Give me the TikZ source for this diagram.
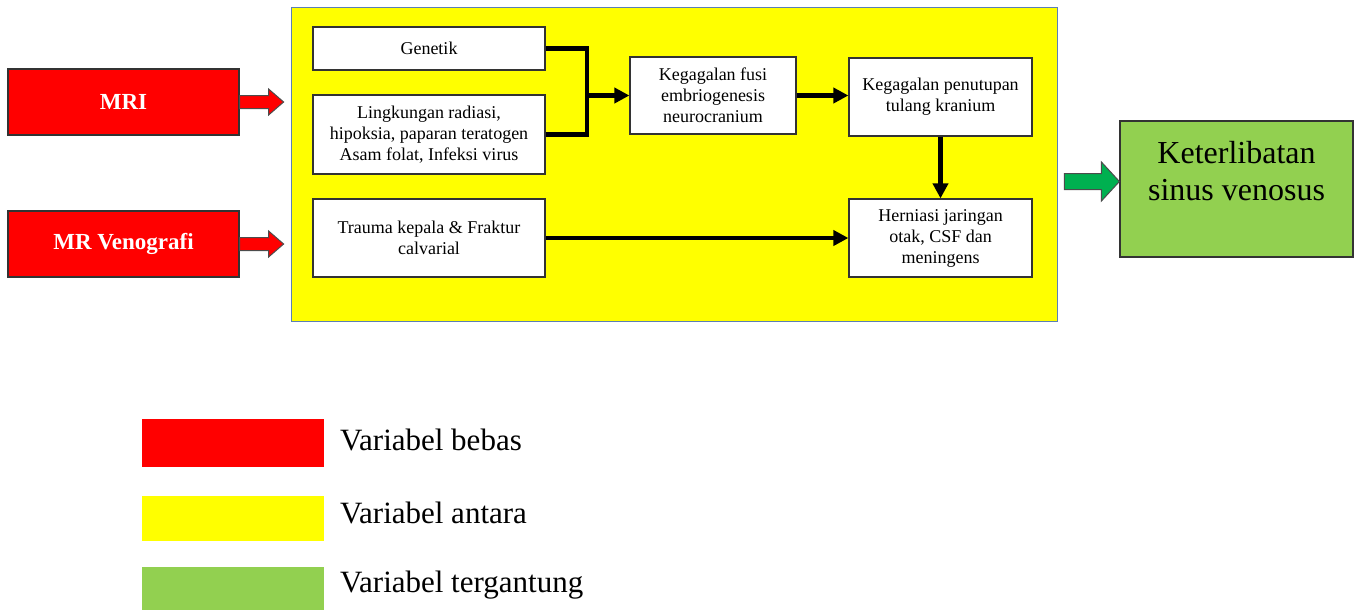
\documentclass[tikz,border=0pt]{standalone}
\usepackage{fontspec}
\setmainfont{Liberation Serif}
\usetikzlibrary{arrows.meta,positioning}
\definecolor{bebas}{HTML}{FF0000}
\definecolor{antara}{HTML}{FFFF00}
\definecolor{tergantung}{HTML}{92D050}
\definecolor{panahhijau}{HTML}{00B050}
\definecolor{garisbiru}{HTML}{5B7FB5}
\begin{document}
\begin{tikzpicture}
  [x=1pt,y=-1pt,
   every node/.style={rectangle,inner sep=2pt},
   varbox/.style={draw=black!80,line width=1.2pt,fill=white,align=center,
     font=\fontsize{18}{21}\selectfont},
   indep/.style={draw=black!80,line width=1.2pt,fill=bebas,text=white,
     minimum width=231,minimum height=66,font=\bfseries\fontsize{23}{27}\selectfont},
   flow/.style={line width=4.5pt,-{Triangle[length=15pt,width=15pt]}},
   link/.style={line width=4.5pt},
   blokpanah/.style={draw=black!70,line width=1pt},
   legbox/.style={minimum width=182,inner sep=0pt},
   legtext/.style={anchor=west,font=\fontsize{31}{36}\selectfont}]
\useasboundingbox (0,0) rectangle (1363,611);
% variabel antara
\node (antara)[draw=garisbiru,line width=1pt,fill=antara,minimum width=766,minimum height=314] at (674,164) {};
% variabel bebas
\node (mri)[indep] at (123.5,102) {MRI};
\node (mrv)[indep] at (123.5,244) {MR Venografi};
\foreach \src in {mri,mrv}
  \draw[blokpanah,fill=bebas] (\src.east) ++(0,-6.5) -- ++(29,0) -- ++(0,-6.5)
    -- ++(15,13) -- ++(-15,13) -- ++(0,-6.5) -- ++(-29,0) -- cycle;
% kotak di dalam
\node (gen)[varbox,minimum width=232,minimum height=43] at (429,48.5) {Genetik};
\node (ling)[varbox,minimum width=232,minimum height=79] at (429,134.5)
  {Lingkungan radiasi,\\hipoksia, paparan teratogen\\Asam folat, Infeksi virus};
\node (trauma)[varbox,minimum width=232,minimum height=78] at (429,238)
  {Trauma kepala \& Fraktur\\calvarial};
\node (fusi)[varbox,minimum width=166,minimum height=77] at (713,95.5)
  {Kegagalan fusi\\embriogenesis\\neurocranium};
\node (pen)[varbox,minimum width=183,minimum height=78] at (940.5,97)
  {Kegagalan penutupan\\tulang kranium};
\node (hern)[varbox,minimum width=183,minimum height=78] at (940.5,238)
  {Herniasi jaringan\\otak, CSF dan\\meningens};
\coordinate (junc) at (587,95.5);
\draw[link] (gen.east) -| (junc);
\draw[link] (ling.east) -| (junc);
\draw[flow] (junc) -- (fusi.west);
\draw[flow] (fusi.east) -- (fusi.east -| pen.west);
\draw[flow] (pen.south) -- (hern.north);
\draw[flow] (trauma.east) -- (hern.west);
% variabel tergantung
\node (dv)[draw=black!80,line width=1.2pt,fill=tergantung,minimum width=233,minimum height=136,
  align=center,font=\fontsize{32}{37}\selectfont] at (1236.5,189) {Keterlibatan\\sinus venosus\\\mbox{}};
\draw[blokpanah,fill=panahhijau] (dv.west) ++(0,-7.5) -- ++(-18,-19.5) -- ++(0,11.5)
  -- ++(-37,0) -- ++(0,16) -- ++(37,0) -- ++(0,11.5) -- cycle;
% keterangan
\node (leg1)[legbox,fill=bebas,minimum height=48] at (233,443) {};
\node (leg2)[legbox,fill=antara,minimum height=45] at (233,518.5) {};
\node (leg3)[legbox,fill=tergantung,minimum height=43] at (233,588.5) {};
\node (t1)[legtext] at (338,440) {Variabel bebas};
\node (t2)[legtext] at (338,513) {Variabel antara};
\node (t3)[legtext] at (338,585) {Variabel tergantung};
\end{tikzpicture}
\end{document}
